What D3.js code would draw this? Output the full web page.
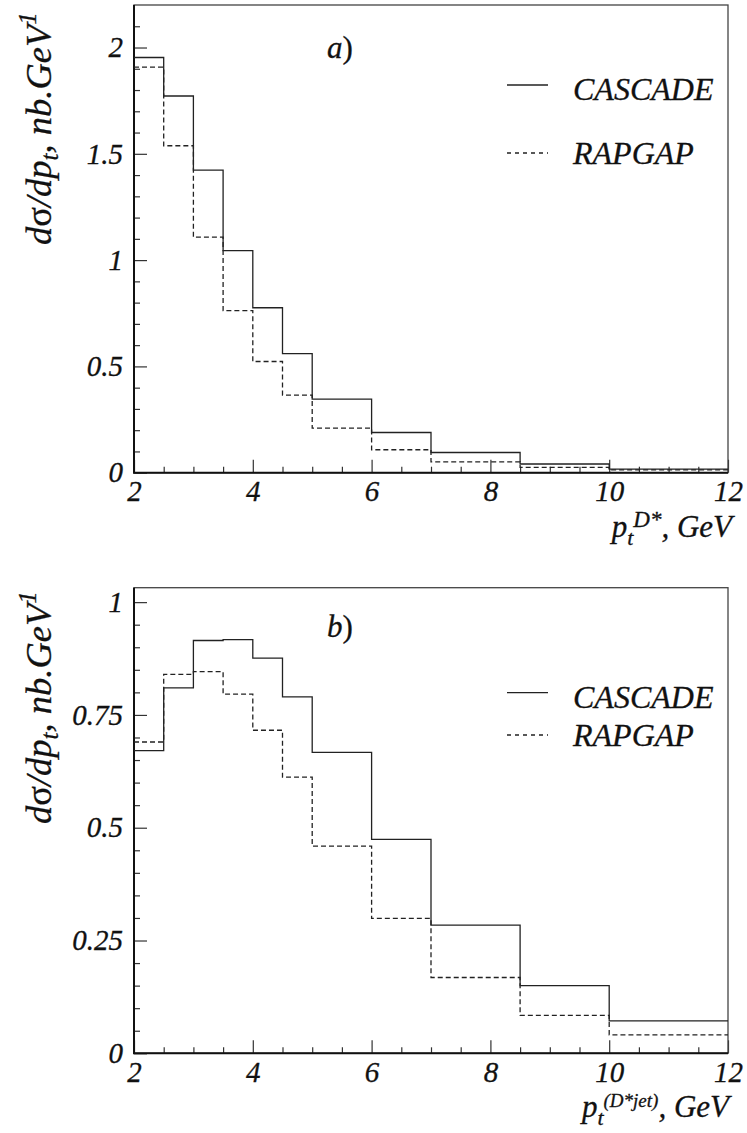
<!DOCTYPE html>
<html>
<head>
<meta charset="utf-8">
<script src="https://cdn.jsdelivr.net/npm/d3@7/dist/d3.min.js"></script>
<style>
body { margin: 0; background: #fff; }
</style>
</head>
<body>
<div id="chart"></div>
<script>
// bin edges, GeV (same for both panels)
let binEdges = [2, 2.5, 3, 3.5, 4, 4.5, 5, 6, 7, 8.5, 10, 12];

// panel a) d sigma / d pt(D*)
let cascadeA = [1.953, 1.772, 1.423, 1.045, 0.776, 0.560, 0.346, 0.189, 0.095, 0.041, 0.017];
let rapgapA  = [1.908, 1.538, 1.108, 0.762, 0.523, 0.365, 0.210, 0.108, 0.051, 0.025, 0.013];

// panel b) d sigma / d pt(D* jet)
let cascadeB = [0.671, 0.810, 0.915, 0.917, 0.876, 0.790, 0.667, 0.474, 0.284, 0.150, 0.072];
let rapgapB  = [0.690, 0.840, 0.846, 0.796, 0.716, 0.612, 0.459, 0.299, 0.168, 0.084, 0.041];

let xTicksMajor = [2, 4, 6, 8, 10, 12];
let yTicksA = [0, 0.5, 1, 1.5, 2];
let yTicksB = [0, 0.25, 0.5, 0.75, 1];
let yLabelsA = ['0', '0.5', '1', '1.5', '2'];
let yLabelsB = ['0', '0.25', '0.5', '0.75', '1'];

let width = 747;
let height = 1133;

let svg = d3.select('#chart')
	.append('svg')
	.attr('width', width)
	.attr('height', height);

let left = 134, right = 728;

function panel(opt){
	let g = svg.append('g');

	let x = d3.scaleLinear().domain([2, 12]).range([left, right]);
	let y = d3.scaleLinear().domain([0, opt.ymax]).range([opt.bottom, opt.top]);

	// minor ticks
	let minorX = d3.range(2, 12.01, 0.5).filter(v => v % 2 !== 0);
	let minorY = d3.range(0, opt.ymax, opt.minor)
		.filter(v => opt.major.indexOf(+v.toFixed(3)) < 0);

	g.append('g')
		.attr('transform', 'translate(0,' + opt.bottom + ')')
		.call(d3.axisBottom(x).tickValues(minorX).tickSize(-6).tickFormat(''))
		.call(a => a.select('.domain').remove());

	g.append('g')
		.attr('transform', 'translate(' + left + ',0)')
		.call(d3.axisLeft(y).tickValues(minorY).tickSize(-6).tickFormat(''))
		.call(a => a.select('.domain').remove());

	// major ticks + labels
	g.append('g')
		.attr('transform', 'translate(0,' + opt.bottom + ')')
		.call(d3.axisBottom(x).tickValues(xTicksMajor).tickSize(-13).tickPadding(8).tickFormat(d3.format('d')))
		.call(a => a.select('.domain').remove());

	g.append('g')
		.attr('transform', 'translate(' + left + ',0)')
		.call(d3.axisLeft(y).tickValues(opt.major).tickSize(-13).tickPadding(11)
			.tickFormat((d, i) => opt.labels[i]))
		.call(a => a.select('.domain').remove());

	g.selectAll('.tick line').attr('stroke', '#333').attr('stroke-width', 1.2);
	g.selectAll('.tick text')
		.attr('font-size', 29)
		.attr('fill', '#111');

	// frame
	g.append('rect')
		.attr('x', left).attr('y', opt.top)
		.attr('width', right - left).attr('height', opt.bottom - opt.top)
		.attr('fill', 'none').attr('stroke', '#444').attr('stroke-width', 1.3);
	g.append('path')
		.attr('d', 'M' + left + ',' + opt.top + 'V' + opt.bottom + 'H' + right)
		.attr('fill', 'none').attr('stroke', '#111').attr('stroke-width', 2);

	// histograms
	let line = d3.line()
		.x(d => x(d[0]))
		.y(d => y(d[1]))
		.curve(d3.curveStepAfter);

	function pts(vals){
		let p = vals.map((v, i) => [binEdges[i], v]);
		p.push([binEdges[binEdges.length - 1], vals[vals.length - 1]]);
		return p;
	}

	g.append('path')
		.attr('d', line(pts(opt.rapgap)))
		.attr('fill', 'none').attr('stroke', '#222').attr('stroke-width', 1.3)
		.attr('stroke-dasharray', '5,3');

	g.append('path')
		.attr('d', line(pts(opt.cascade)))
		.attr('fill', 'none').attr('stroke', '#222').attr('stroke-width', 1.3);

	// legend
	g.append('line')
		.attr('x1', 507).attr('x2', 548).attr('y1', opt.leg[0]).attr('y2', opt.leg[0])
		.attr('stroke', '#222').attr('stroke-width', 1.3);
	g.append('text').attr('x', 573).attr('y', opt.leg[0] + 15).attr('font-size', 32).text('CASCADE');
	g.append('line')
		.attr('x1', 507).attr('x2', 548).attr('y1', opt.leg[1]).attr('y2', opt.leg[1])
		.attr('stroke', '#222').attr('stroke-width', 1.3)
		.attr('stroke-dasharray', '4,4');
	g.append('text').attr('x', 573).attr('y', opt.leg[1] + 11).attr('font-size', 32).text('RAPGAP');

	// panel tag
	let tag = g.append('text').attr('x', 327).attr('y', opt.tagY).attr('font-size', 31);
	tag.append('tspan').text(opt.tag);
	tag.append('tspan').style('font-style', 'normal').text(')');

	// y title
	let yt = g.append('text')
		.attr('transform', 'translate(51,' + opt.ytitle + ') rotate(-90)')
		.attr('font-size', 36.5);
	yt.append('tspan').text('d');
	yt.append('tspan').style('font-style', 'normal').text('σ');
	yt.append('tspan').text('/dp');
	yt.append('tspan').attr('font-size', 25).attr('dy', 7).text('t');
	yt.append('tspan').attr('dy', -7).text(', nb.GeV');
	yt.append('tspan').attr('font-size', 25).attr('dy', -15).text('1');

	// x title
	let xt = g.append('text')
		.attr('x', opt.xtEnd).attr('y', opt.bottom + 64)
		.attr('text-anchor', 'end')
		.attr('font-size', 31);
	xt.append('tspan').text('p');
	xt.append('tspan').attr('font-size', 22).attr('dy', 8).text('t');
	xt.append('tspan').attr('font-size', opt.supSize).attr('dy', -18).text(opt.xsup);
	xt.append('tspan').attr('dy', 10).text(', GeV');
}

panel({
	top: 5, bottom: 472.7, ymax: 2.2, minor: 0.1,
	major: yTicksA, labels: yLabelsA,
	cascade: cascadeA, rapgap: rapgapA,
	leg: [85, 153], tag: 'a', tagY: 58, ytitle: 245,
	xsup: 'D*', supSize: 23, xtEnd: 732
});

panel({
	top: 587.7, bottom: 1053.3, ymax: 1.032, minor: 0.05,
	major: yTicksB, labels: yLabelsB,
	cascade: cascadeB, rapgap: rapgapB,
	leg: [692.7, 735], tag: 'b', tagY: 637, ytitle: 824,
	xsup: '(D*jet)', supSize: 19, xtEnd: 729
});

// serif italic for every text, set inline so the axis defaults don't win
svg.selectAll('text')
	.style('font-family', "'Liberation Serif'")
	.style('font-style', function(){ return this.style.fontStyle || 'italic'; })
	.style('fill', '#111')
	.style('stroke', '#111')
	.style('stroke-width', '0.3px');
svg.selectAll('tspan')
	.style('stroke', null);
</script>
</body>
</html>
